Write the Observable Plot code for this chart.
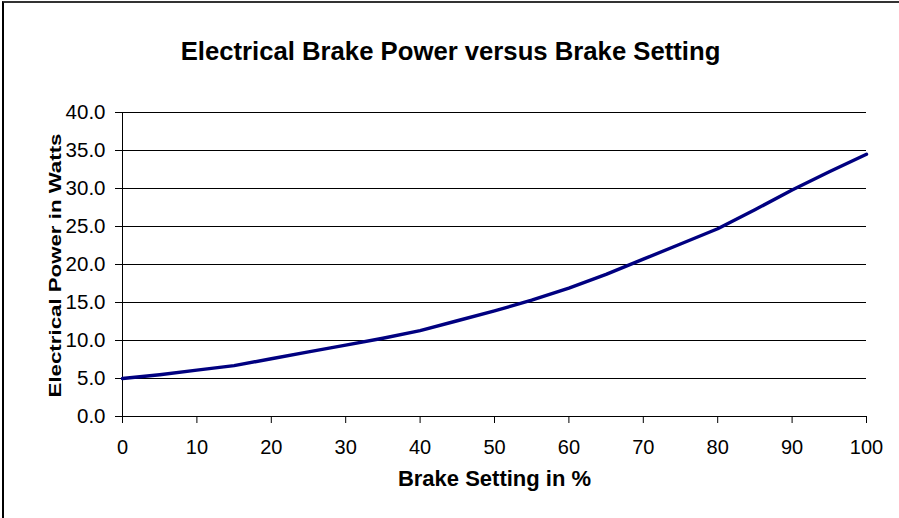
<!DOCTYPE html>
<html>
<head>
<meta charset="utf-8">
<script src="https://cdn.jsdelivr.net/npm/d3@7"></script>
<script src="https://cdn.jsdelivr.net/npm/@observablehq/plot@0.6"></script>
<style>
  html, body { margin: 0; padding: 0; background: white; }
  #wrap { position: relative; width: 899px; height: 518px; overflow: hidden; }
  #frame { position: absolute; left: 2px; top: 1px; width: 1000px; height: 1000px;
           border-left: 2px solid #000; border-top: 2px solid #333; pointer-events: none; }
</style>
</head>
<body>
<div id="wrap"><div id="frame"></div></div>
<script>
const titleText = "Electrical Brake Power versus Brake Setting";
const xTitle = "Brake Setting in %";
const yTitle = "Electrical Power in Watts";

const brakeSetting = [0, 5, 10, 15, 20, 25, 30, 35, 40, 45, 50, 55, 60, 65, 70, 75, 80, 85, 90, 95, 100];
const powerWatts   = [5.0, 5.5, 6.1, 6.7, 7.6, 8.5, 9.4, 10.3, 11.3, 12.6, 13.9, 15.3, 16.9, 18.7, 20.7, 22.7, 24.7, 27.2, 29.8, 32.2, 34.5];

const xTicks = [0, 10, 20, 30, 40, 50, 60, 70, 80, 90, 100];
const yTicks = [0, 5, 10, 15, 20, 25, 30, 35, 40];

const data = brakeSetting.map((s, i) => ({setting: s, power: powerWatts[i]}));

const chart = Plot.plot({
  width: 899,
  height: 518,
  marginLeft: 122,
  marginRight: 33,
  marginTop: 112,
  marginBottom: 102,
  style: {fontFamily: "'Liberation Sans', Arial, sans-serif", fontSize: "20px", background: "transparent", color: "black", overflow: "visible"},
  x: {domain: [0, 100]},
  y: {domain: [0, 40]},
  marks: [
    Plot.ruleY(yTicks.filter(d => d > 0), {stroke: "black", strokeWidth: 1}),
    Plot.axisY({ticks: yTicks, tickFormat: d => d.toFixed(1), tickSize: 7, tickPadding: 10, fontSize: 20.5, label: null}),
    Plot.axisX({ticks: xTicks, tickFormat: d => String(d), tickSize: 7, tickPadding: 16, fontSize: 20, label: null}),
    Plot.ruleX([0], {stroke: "black"}),
    Plot.ruleY([0], {stroke: "black"}),
    Plot.line(data, {x: "setting", y: "power", stroke: "#000080", strokeWidth: 3.4}),
    Plot.text([titleText], {frameAnchor: "top", dx: -44, dy: -71, fontSize: 25.7, fontWeight: "bold", fill: "black"}),
    Plot.text([xTitle], {frameAnchor: "bottom", dy: 69, fontSize: 22, fontWeight: "bold", fill: "black"}),
    Plot.text([yTitle], {frameAnchor: "left", textAnchor: "middle", dx: -67, dy: 1, rotate: -90, fontSize: 17, fontWeight: "bold", fill: "black"})
  ]
});
// the reference stretches the rotated axis title along its length
d3.select(chart).selectAll("text")
  .filter(function() { return this.textContent === yTitle; })
  .each(function() {
    const t = this.getAttribute("transform") || "";
    this.setAttribute("transform", (t + " scale(1.31,1)").trim());
  });
document.getElementById("wrap").insertBefore(chart, document.getElementById("frame"));
</script>
</body>
</html>
